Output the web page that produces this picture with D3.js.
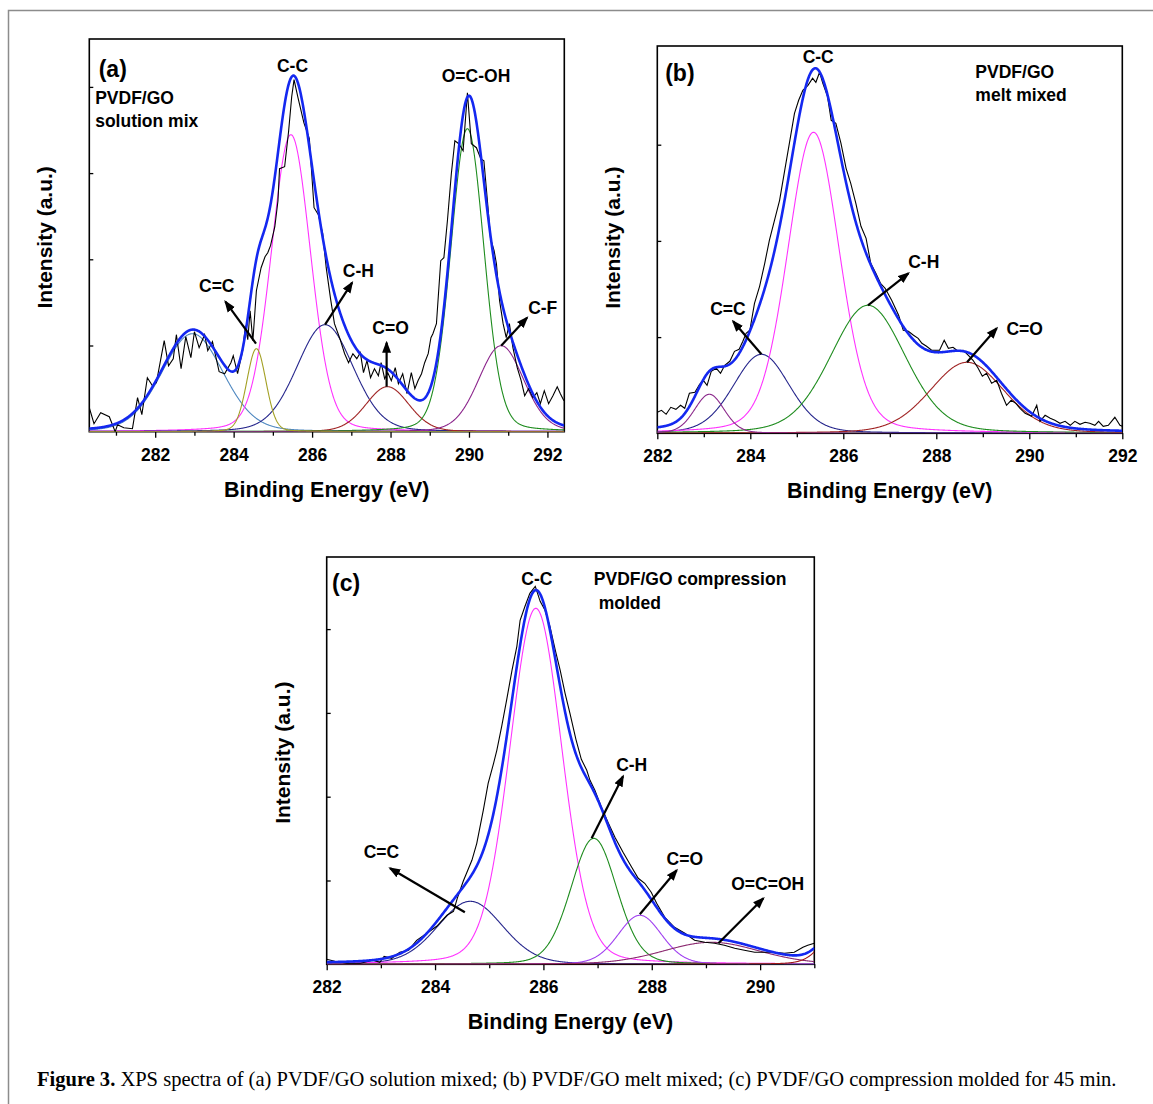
<!DOCTYPE html>
<html>
<head>
<meta charset="utf-8">
<script src="https://cdnjs.cloudflare.com/ajax/libs/d3/7.8.5/d3.min.js"></script>
<style>
  body { margin: 0; background: #fff; }
  svg text { font-family: "Liberation Sans", Arial, sans-serif; font-weight: bold; fill: #000; }
</style>
</head>
<body>
<div id="fig"></div>
<script>
var svgWidth = 1153;
var svgHeight = 1104;

// measured spectra: [binding energy (eV), intensity (a.u.)]
var rawA = [[280.32,24],[280.44,8],[280.61,19],[280.83,15],[280.98,0],[281.04,7],[281.20,4],[281.42,3],[281.55,34],[281.66,17],
  [281.80,54],[281.93,46],[282.03,49],[282.23,91],[282.34,66],[282.46,73],[282.54,97],[282.66,63],[282.78,95],[282.91,74],
  [283.00,100],[283.12,84],[283.26,97],[283.34,81],[283.46,90],[283.63,60],[283.77,58],[283.93,69],[283.99,76],[284.10,58],
  [284.23,81],[284.30,106],[284.36,92],[284.42,121],[284.49,91],[284.58,141],[284.70,164],[284.80,175],[284.87,179],[284.94,186],
  [285.05,205],[285.13,231],[285.17,263],[285.30,265],[285.40,300],[285.48,335],[285.54,352],[285.64,334],[285.79,309],[285.93,293],
  [286.05,224],[286.16,217],[286.27,198],[286.36,164],[286.47,133],[286.57,108],[286.70,94],[286.83,78],[286.93,69],[287.04,78],
  [287.14,73],[287.23,79],[287.31,59],[287.40,71],[287.49,54],[287.59,63],[287.69,56],[287.76,69],[287.85,53],[287.93,59],
  [288.02,51],[288.12,64],[288.20,48],[288.31,58],[288.42,38],[288.53,59],[288.62,43],[288.70,51],[288.79,58],[288.87,69],
  [288.96,78],[289.03,94],[289.08,98],[289.17,108],[289.28,171],[289.36,174],[289.45,211],[289.55,258],[289.64,291],[289.74,288],
  [289.85,281],[289.96,339],[290.06,288],[290.19,284],[290.30,273],[290.38,271],[290.47,231],[290.55,193],[290.64,181],[290.70,168],
  [290.78,131],[290.87,108],[290.95,94],[291.03,108],[291.12,84],[291.23,64],[291.33,51],[291.42,36],[291.52,43],[291.63,34],
  [291.73,39],[291.82,28],[291.92,41],[292.03,28],[292.14,36],[292.25,45],[292.33,38],[292.42,31]];

var rawB = [[282.00,21],[282.09,23],[282.19,19],[282.29,26],[282.40,24],[282.50,28],[282.59,25],[282.69,40],[282.81,41],[282.91,49],
  [282.99,53],[283.07,48],[283.16,62],[283.27,65],[283.36,60],[283.45,68],[283.56,72],[283.66,82],[283.76,84],[283.84,92],
  [283.91,100],[283.99,103],[284.09,130],[284.20,147],[284.31,170],[284.41,193],[284.52,213],[284.63,233],[284.74,263],[284.84,290],
  [284.95,320],[285.04,333],[285.13,343],[285.24,348],[285.34,355],[285.41,351],[285.49,361],[285.56,350],[285.66,337],[285.74,313],
  [285.84,310],[285.95,290],[286.06,265],[286.16,250],[286.27,230],[286.38,207],[286.49,195],[286.59,170],[286.70,160],[286.80,150],
  [286.90,145],[287.04,133],[287.19,118],[287.29,103],[287.40,102],[287.51,98],[287.61,95],[287.69,90],[287.79,87],[287.90,83],
  [288.00,83],[288.07,83],[288.17,93],[288.26,85],[288.36,86],[288.47,82],[288.58,83],[288.69,78],[288.79,73],[288.90,65],
  [288.99,57],[289.08,60],[289.19,50],[289.30,53],[289.40,40],[289.51,28],[289.61,33],[289.71,30],[289.80,25],[289.91,20],
  [290.05,17],[290.16,28],[290.23,12],[290.34,18],[290.45,15],[290.55,13],[290.66,10],[290.77,12],[290.88,8],[290.98,12],
  [291.09,9],[291.20,11],[291.30,10],[291.41,8],[291.49,12],[291.59,7],[291.70,8],[291.84,16],[291.95,8],[292.00,7]];

var rawC = [[282.00,5],[282.15,3],[282.37,1],[282.62,1],[282.86,4],[282.98,2],[283.06,8],[283.20,6],[283.35,12],[283.51,14],
  [283.66,24],[283.85,31],[284.03,38],[284.22,49],[284.34,53],[284.41,66],[284.52,83],[284.68,104],[284.77,121],[284.89,154],
  [284.98,181],[285.08,201],[285.14,214],[285.23,238],[285.32,264],[285.42,294],[285.51,318],[285.57,344],[285.66,358],[285.75,371],
  [285.85,378],[285.94,363],[286.03,354],[286.12,338],[286.22,314],[286.31,294],[286.40,271],[286.49,251],[286.60,225],[286.70,205],
  [286.80,194],[286.86,184],[286.95,174],[287.07,157],[287.20,141],[287.32,127],[287.47,112],[287.63,97],[287.75,86],[287.87,81],
  [287.99,72],[288.09,61],[288.24,47],[288.42,37],[288.61,31],[288.79,24],[288.98,22],[289.16,21],[289.34,19],[289.53,16],
  [289.71,14],[289.90,12],[290.08,12],[290.26,12],[290.45,11],[290.63,12],[290.79,17],[290.88,19],[291.00,21]];

// fitted components: [centre (eV), height (a.u.), FWHM (eV)]
var peaksA = [[282.95,98,1.85],[285.46,297,1.18],[286.33,107,1.7],[287.92,45,1.3],[289.96,303,1.0],[290.82,86,1.36],[284.58,83,0.58]];
var peaksB = [[284.24,79,1.43],[285.36,301,1.32],[286.53,128,1.9],[288.66,71,1.88],[283.12,39,0.76]];
var peaksC = [[284.65,63,1.42],[285.86,356,1.14],[286.93,126,1.0],[287.78,49,0.95],[289.1,22,2.1],[291.6,50,0.83]];

var xTicksA = [282, 284, 286, 288, 290, 292];
var xTicksB = [282, 284, 286, 288, 290, 292];
var xTicksC = [282, 284, 286, 288, 290];
var yTicksA = [86.2, 172.4, 258.6, 344.8];
var yTicksB = [96.2, 192.4, 288.6];
var yTicksC = [83.8, 167.6, 251.4, 335.2];

var colorsA = ["#4f88c0", "#ff33ff", "#26268c", "#a02424", "#1e8c1e", "#8c268c", "#a3a024"];
var colorsB = ["#26268c", "#ff33ff", "#1e8c1e", "#a02424", "#8c2a8c"];
var colorsC = ["#26268c", "#ff33ff", "#1e8c1e", "#a040f0", "#8c2a70", "#a01818"];

var notesA = [
  {text: "C=C", at: [283.57, 140], tail: [284.57, 88], head: [283.79, 130]},
  {text: "C-C", at: [285.5, 360]},
  {text: "C-H", at: [287.18, 155], tail: [286.33, 107], head: [287.02, 149]},
  {text: "C=O", at: [288.0, 98], tail: [287.9, 45], head: [287.9, 89]},
  {text: "O=C-OH", at: [290.18, 350]},
  {text: "C-F", at: [291.88, 118], tail: [290.82, 86], head: [291.48, 114]}
];
var notesB = [
  {text: "C=C", at: [283.52, 118], tail: [284.24, 79], head: [283.63, 112]},
  {text: "C-C", at: [285.46, 370]},
  {text: "C-H", at: [287.73, 165], tail: [286.53, 128], head: [287.4, 160]},
  {text: "C=O", at: [289.9, 98], tail: [288.66, 71], head: [289.3, 105]}
];
var notesC = [
  {text: "C=C", at: [283.01, 106], tail: [284.55, 52], head: [283.17, 96]},
  {text: "C-C", at: [285.88, 379]},
  {text: "C-H", at: [287.63, 193], tail: [286.89, 126], head: [287.47, 188]},
  {text: "C=O", at: [288.61, 99], tail: [287.78, 50], head: [288.46, 94]},
  {text: "O=C=OH", at: [290.14, 74], tail: [289.23, 21], head: [290.06, 66]}
];

var panels = [
  {id: "a", left: 89.3, right: 564.3, top: 39, bottom: 431.7, xDomain: [280.32, 292.43], yMax: 392.7,
   raw: rawA, peaks: peaksA, colors: colorsA, xTicks: xTicksA, yTicks: yTicksA, notes: notesA, mix: 0.15,
   tag: [280.56, 355], title: ["PVDF/GO", "solution mix"], titleAt: [280.47, 328], titleGap: 23, yLabelDy: 2},
  {id: "b", left: 657.3, right: 1122.3, top: 46, bottom: 433.3, xDomain: [282, 292], yMax: 387.3,
   raw: rawB, peaks: peaksB, colors: colorsB, xTicks: xTicksB, yTicks: yTicksB, notes: notesB, mix: 0.2,
   tag: [282.17, 352], title: ["PVDF/GO", "melt mixed"], titleAt: [288.84, 355], titleGap: 23, yLabelDy: -2},
  {id: "c", left: 326.7, right: 814.3, top: 557, bottom: 964.3, xDomain: [282, 291], yMax: 407.3,
   raw: rawC, peaks: peaksC, colors: colorsC, xTicks: xTicksC, yTicks: yTicksC, notes: notesC, mix: 0.15,
   tag: [282.1, 373], title: ["PVDF/GO compression", " molded"], titleAt: [286.93, 379], titleGap: 24, yLabelDy: -8}
];

var svg = d3.select("#fig").append("svg")
  .attr("width", svgWidth)
  .attr("height", svgHeight);

var defs = svg.append("defs");
defs.append("marker")
  .attr("id", "head")
  .attr("markerUnits", "userSpaceOnUse")
  .attr("viewBox", "0 -5 12 10")
  .attr("refX", 10).attr("refY", 0)
  .attr("markerWidth", 12).attr("markerHeight", 10)
  .attr("orient", "auto")
  .append("path").attr("d", "M0,-4.5L12,0L0,4.5Z").attr("fill", "#000");

// page frame
svg.append("path")
  .attr("d", "M8.5,1104V10.5H1153")
  .attr("fill", "none").attr("stroke", "#8c8c8c").attr("stroke-width", 1.5);

function voigt(e, pk, m) {
  var d = (e - pk[0]) / (pk[2] / 2);
  return pk[1] * ((1 - m) * Math.exp(-Math.LN2 * d * d) + m / (1 + d * d));
}

function drawPanel(p) {
  var x = d3.scaleLinear().domain(p.xDomain).range([p.left, p.right]);
  var y = d3.scaleLinear().domain([0, p.yMax]).range([p.bottom, p.top]);
  var g = svg.append("g");

  g.append("clipPath").attr("id", "clip-" + p.id)
    .append("rect").attr("x", p.left).attr("y", p.top)
    .attr("width", p.right - p.left).attr("height", p.bottom - p.top);

  // x axis, major + minor ticks
  var minor = d3.range(Math.ceil(p.xDomain[0]), p.xDomain[1] + 0.001, 1).filter(function(v) { return v % 2 === 1; });
  var xAxis = g.append("g").attr("transform", "translate(0," + p.bottom + ")")
    .call(d3.axisBottom(x).tickValues(p.xTicks).tickSize(6).tickFormat(d3.format("d")));
  xAxis.selectAll("text").attr("y", 29).attr("dy", null)
    .style("font-size", "17.5px").style("font-weight", "bold");
  g.append("g").attr("transform", "translate(0," + p.bottom + ")")
    .call(d3.axisBottom(x).tickValues(minor).tickSize(4).tickFormat(""));

  // y axis, inward ticks only
  g.append("g").attr("transform", "translate(" + p.left + ",0)")
    .call(d3.axisLeft(y).tickValues(p.yTicks).tickSize(-4).tickFormat(""));

  g.selectAll(".domain").remove();
  g.selectAll(".tick line").attr("stroke", "#000").attr("stroke-width", 1.3);

  g.append("rect")
    .attr("x", p.left).attr("y", p.top)
    .attr("width", p.right - p.left).attr("height", p.bottom - p.top)
    .attr("fill", "none").attr("stroke", "#000").attr("stroke-width", 1.6);

  var energies = d3.range(p.xDomain[0], p.xDomain[1] + 0.005, 0.01);
  var line = d3.line().x(function(d) { return x(d[0]); }).y(function(d) { return y(d[1]); });
  var plot = g.append("g").attr("clip-path", "url(#clip-" + p.id + ")");

  p.peaks.forEach(function(pk, i) {
    plot.append("path")
      .datum(energies.map(function(e) { return [e, voigt(e, pk, p.mix)]; }))
      .attr("d", line)
      .attr("fill", "none").attr("stroke", p.colors[i]).attr("stroke-width", 1.1);
  });

  plot.append("path").datum(p.raw).attr("d", line)
    .attr("fill", "none").attr("stroke", "#000").attr("stroke-width", 1.1);

  var envelope = energies.map(function(e) {
    return [e, d3.sum(p.peaks, function(pk) { return voigt(e, pk, p.mix); })];
  });
  plot.append("path").datum(envelope).attr("d", line)
    .attr("fill", "none").attr("stroke", "#1428f0").attr("stroke-width", 2.6);

  // arrows and labels
  p.notes.forEach(function(n) {
    if (n.tail) {
      g.append("line")
        .attr("x1", x(n.tail[0])).attr("y1", y(n.tail[1]))
        .attr("x2", x(n.head[0])).attr("y2", y(n.head[1]))
        .attr("stroke", "#000").attr("stroke-width", 2.2)
        .attr("marker-end", "url(#head)");
    }
    g.append("text")
      .attr("x", x(n.at[0])).attr("y", y(n.at[1]))
      .attr("text-anchor", "middle")
      .style("font-size", "17.5px")
      .text(n.text);
  });

  g.append("text")
    .attr("x", x(p.tag[0])).attr("y", y(p.tag[1]))
    .style("font-size", "23px")
    .text("(" + p.id + ")");

  p.title.forEach(function(t, i) {
    g.append("text")
      .attr("x", x(p.titleAt[0])).attr("y", y(p.titleAt[1]) + i * p.titleGap)
      .attr("xml:space", "preserve")
      .style("font-size", "17.5px")
      .text(t);
  });

  // axis titles
  g.append("text")
    .attr("transform", "translate(" + (p.left - 37) + "," + ((p.top + p.bottom) / 2 + p.yLabelDy) + ") rotate(-90)")
    .attr("text-anchor", "middle")
    .style("font-size", "21px")
    .text("Intensity (a.u.)");

  g.append("text")
    .attr("x", (p.left + p.right) / 2).attr("y", p.bottom + 65)
    .attr("text-anchor", "middle")
    .style("font-size", "21.5px")
    .text("Binding Energy (eV)");
}

panels.forEach(drawPanel);

// caption
var caption = svg.append("text")
  .attr("x", 37).attr("y", 1086)
  .style("font-family", "'Liberation Serif', 'DejaVu Serif', serif")
  .style("font-weight", "normal")
  .style("font-size", "19px");
caption.append("tspan").style("font-weight", "bold").text("Figure 3.");
caption.append("tspan").text(" XPS spectra of (a) PVDF/GO solution mixed; (b) PVDF/GO melt mixed; (c) PVDF/GO compression molded for 45 min.");
var capW = caption.node().getComputedTextLength();
caption.style("font-size", (19 * 1080 / capW) + "px");
</script>
</body>
</html>
